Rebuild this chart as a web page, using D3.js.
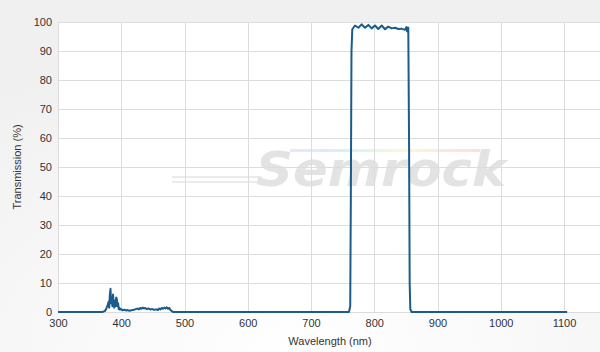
<!DOCTYPE html>
<html>
<head>
<meta charset="utf-8">
<script src="https://cdn.jsdelivr.net/npm/d3@7"></script>
<style>
  html, body { margin: 0; padding: 0; }
  body { width: 600px; height: 352px; overflow: hidden; }
  #chart svg { display: block; }
</style>
</head>
<body>
<div id="chart"></div>
<script>
// wavelength (nm) and transmission (%)
const wavelength = [
  300, 370, 374, 376, 378, 380, 381, 382, 383, 384, 385, 386, 387, 388, 389, 390,
  391, 392, 393, 394, 395, 396, 397, 398, 400, 402, 405, 408, 410, 413, 416, 420,
  423, 426, 428, 430, 432, 434, 436, 438, 440, 443, 446, 449, 452, 455, 458, 460,
  462, 464, 466, 468, 470, 472, 474, 476, 478, 480, 482, 600, 760, 762, 763, 764,
  765.3, 769.6, 774.9, 780.1, 785.4, 790.6, 795.9, 801.2, 806.4, 811.8, 817, 822,
  827.6, 833, 838, 843, 848.6, 851, 852, 853.8, 855, 856, 857, 859, 1000, 1105
];
const transmission = [
  0, 0, 0.3, 1, 2, 3.5, 1.5, 6, 8, 3, 5, 2, 6, 3, 1.5, 4,
  2, 5, 4.5, 2, 3, 1, 1.5, 0.8, 1, 0.6, 0.8, 0.5, 0.7, 0.4, 0.6, 0.8,
  1, 1.2, 0.9, 1.4, 1.1, 1.5, 1.2, 1.4, 1, 1.2, 0.9, 1, 0.8, 0.9, 0.7, 1.2,
  0.9, 1.4, 1.1, 1.5, 1.2, 1.6, 1.1, 1.4, 0.6, 0.3, 0, 0, 0, 2, 40, 90,
  97.5, 98.8, 98, 99.2, 98, 99, 97.8, 98.8, 97.6, 98.8, 97.5, 98.4, 97.8, 98,
  97.6, 97.7, 97.3, 98.3, 96.8, 98, 60, 10, 1, 0, 0, 0
];
const xTicks = [300, 400, 500, 600, 700, 800, 900, 1000, 1100];
const yTicks = [0, 10, 20, 30, 40, 50, 60, 70, 80, 90, 100];

const W = 600, H = 352;
const margin = { top: 22, right: 0, bottom: 40, left: 58 };
const plotH = H - margin.top - margin.bottom;

const svg = d3.select('#chart').append('svg')
  .attr('width', W)
  .attr('height', H);

const defs = svg.append('defs');
const bg = defs.append('radialGradient').attr('id', 'bg')
  .attr('cx', '50%').attr('cy', '100%').attr('r', '90%');
bg.append('stop').attr('offset', '0%').attr('stop-color', '#ffffff');
bg.append('stop').attr('offset', '100%').attr('stop-color', '#f0f0f0');

const rainbow = defs.append('linearGradient').attr('id', 'rainbow');
['#e8e8ff', '#d8ecff', '#dff7e6', '#fbf8d8', '#fde9d6', '#fbdede'].forEach((c, i, a) => {
  rainbow.append('stop').attr('offset', (i / (a.length - 1) * 100) + '%').attr('stop-color', c);
});

svg.append('rect').attr('width', W).attr('height', H).attr('fill', 'url(#bg)');

const x = d3.scaleLinear().domain([300, 1100]).range([margin.left, 564]);
const y = d3.scaleLinear().domain([0, 100]).range([margin.top + plotH, margin.top]);

svg.append('rect')
  .attr('x', margin.left).attr('y', margin.top)
  .attr('width', W - margin.left).attr('height', plotH)
  .attr('fill', '#fff');

// watermark
const wm = svg.append('g');
wm.append('rect').attr('x', 290).attr('y', 149).attr('width', 190).attr('height', 3)
  .attr('fill', 'url(#rainbow)');
[177, 182].forEach((ly) => {
  wm.append('line').attr('x1', 172).attr('x2', 262).attr('y1', ly).attr('y2', ly)
    .attr('stroke', '#e4e4e4').attr('stroke-width', 1.5);
});
wm.append('text')
  .attr('x', 256).attr('y', 186)
  .attr('font-family', 'DejaVu Sans, Liberation Sans, sans-serif')
  .attr('font-weight', 'bold').attr('font-style', 'italic')
  .attr('font-size', 48)
  .attr('textLength', 250)
  .attr('lengthAdjust', 'spacingAndGlyphs')
  .attr('fill', '#e3e3e3')
  .text('Semrock');

// grid
const grid = svg.append('g').attr('stroke', '#dcdcdc').attr('stroke-width', 1);
grid.selectAll('line.h').data(yTicks).join('line')
  .attr('x1', margin.left).attr('x2', W)
  .attr('y1', (d) => Math.round(y(d)) + 0.5).attr('y2', (d) => Math.round(y(d)) + 0.5);
grid.selectAll('line.v').data(xTicks).join('line')
  .attr('y1', margin.top).attr('y2', margin.top + plotH)
  .attr('x1', (d) => Math.round(x(d)) + 0.5).attr('x2', (d) => Math.round(x(d)) + 0.5);

// axes (labels only)
const axisFont = 'Liberation Sans, Arial, sans-serif';
const xAxis = svg.append('g')
  .attr('transform', `translate(0,${margin.top + plotH + 4})`)
  .call(d3.axisBottom(x).tickValues(xTicks).tickSize(0).tickFormat(d3.format('d')));
const yAxis = svg.append('g')
  .attr('transform', `translate(${margin.left - 3},0)`)
  .call(d3.axisLeft(y).tickValues(yTicks).tickSize(0).tickFormat(d3.format('d')));
[xAxis, yAxis].forEach((a) => {
  a.select('.domain').remove();
  a.selectAll('text').attr('font-family', axisFont).attr('font-size', 11).attr('fill', '#333');
});

svg.append('text')
  .attr('x', 330).attr('y', 345)
  .attr('text-anchor', 'middle')
  .attr('font-family', axisFont).attr('font-size', 11).attr('fill', '#333')
  .text('Wavelength (nm)');
svg.append('text')
  .attr('transform', `translate(21,${margin.top + plotH / 2}) rotate(-90)`)
  .attr('text-anchor', 'middle')
  .attr('font-family', axisFont).attr('font-size', 11).attr('fill', '#333')
  .text('Transmission (%)');

// the curve
const pts = wavelength.map((w, i) => [w, transmission[i]]);
const line = d3.line()
  .x((d) => x(d[0]))
  .y((d) => y(d[1]));
svg.append('path')
  .datum(pts)
  .attr('fill', 'none')
  .attr('stroke', '#1a5c8c')
  .attr('stroke-width', 2)
  .attr('stroke-linejoin', 'round')
  .attr('d', line);
</script>
</body>
</html>
